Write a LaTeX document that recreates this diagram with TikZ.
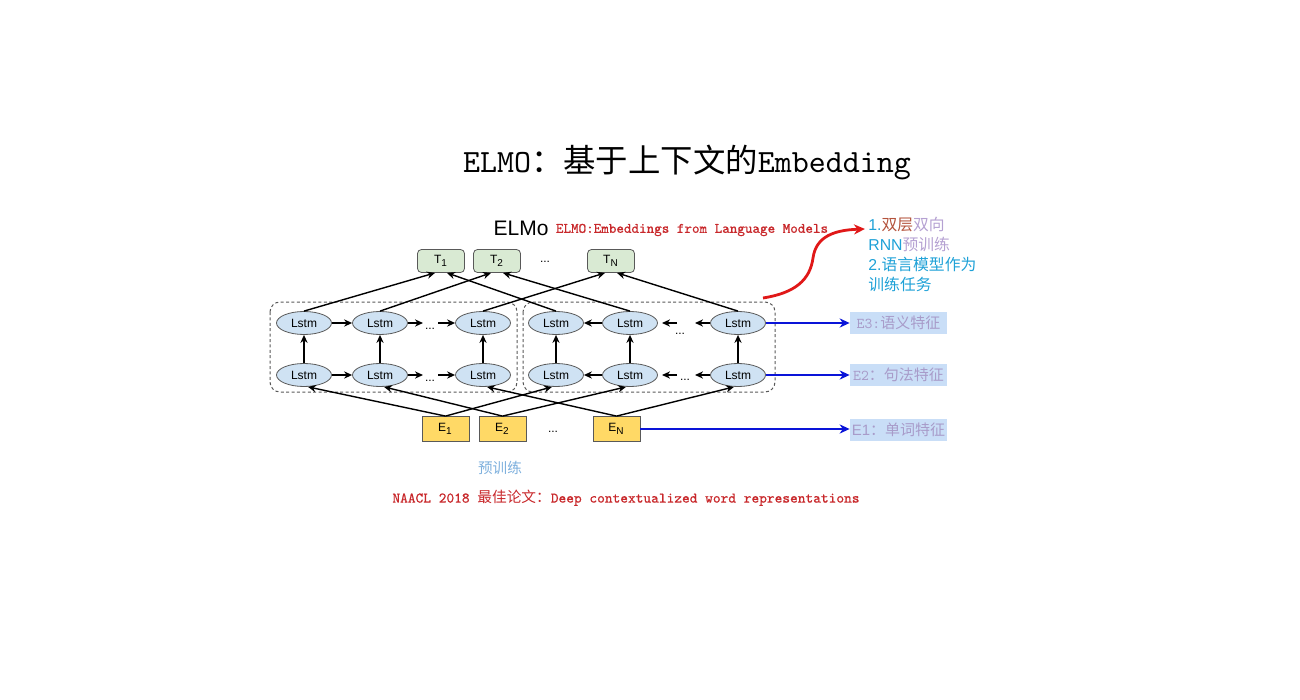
\documentclass[tikz,border=0pt]{standalone}
\usepackage{fontspec}
\setmainfont{Liberation Sans}
\newfontfamily\cjk{Noto Sans CJK SC}
\newfontfamily\simmono{lmmono10-regular.otf}
\newfontfamily\simmonob[FakeBold=0.8]{lmmono10-regular.otf}
\usetikzlibrary{shapes.geometric,arrows.meta}

\definecolor{tgreen}{HTML}{D9EAD3}
\definecolor{lstmblue}{HTML}{CFE2F3}
\definecolor{eyellow}{HTML}{FFD966}
\definecolor{featblue}{HTML}{C9DEF7}
\definecolor{feattext}{HTML}{A89BC9}
\definecolor{boxgrey}{HTML}{595959}
\definecolor{noteblue}{HTML}{1EA1D7}
\definecolor{notebrown}{HTML}{B4533C}
\definecolor{notelilac}{HTML}{B5A1D2}
\definecolor{pretrain}{HTML}{7EB0DD}
\definecolor{paperred}{HTML}{C8282B}
\definecolor{curvered}{HTML}{E01818}
\definecolor{featarrow}{HTML}{0A14D8}

\begin{document}
\begin{tikzpicture}[x=0.5pt,y=-0.5pt,
           lstm_style/.style={ellipse,draw=boxgrey,fill=lstmblue,minimum width=27.5pt,minimum height=11.5pt,inner sep=0pt,font=\fontsize{6}{7}\selectfont},
           tbox_style/.style={rectangle,rounded corners=2pt,draw=boxgrey,fill=tgreen,minimum width=23.5pt,minimum height=11.5pt,inner sep=0pt,font=\fontsize{6}{7}\selectfont},
           ebox_style/.style={rectangle,draw=boxgrey,fill=eyellow,minimum width=23.5pt,minimum height=12.5pt,inner sep=0pt,font=\fontsize{6}{7}\selectfont},
           feat_style/.style={rectangle,fill=featblue,text=feattext,minimum width=48.5pt,minimum height=11pt,inner sep=0pt,font=\fontsize{7.5}{9}\selectfont},
           dots_style/.style={inner sep=0pt,font=\fontsize{6}{7}\selectfont},
           group_style/.style={draw=boxgrey,dash pattern=on 1.5pt off 1.2pt,rounded corners=5pt,line width=0.5pt},
           edge_style/.style={draw=black,line width=0.7pt,-{Stealth[length=4pt,width=3.6pt]}},
           feat_edge_style/.style={draw=featarrow,line width=1.4pt,-{Stealth[length=5pt,width=4.6pt]}},
           curve_style/.style={draw=curvered,line width=1.4pt,-{Stealth[length=5.5pt,width=5pt]}}]
            \useasboundingbox (0,0) rectangle (1300,700);
            % title and model name
            \node[font=\fontsize{16.2}{18}\selectfont] (title) at (687,162) {{\simmono ELMO}{\cjk ：基于上下文的}{\simmono Embedding}};
            \node[font=\fontsize{10.5}{12}\selectfont] (elmo) at (521,228) {ELMo};
            \node[text=paperred,font=\fontsize{7.2}{9}\selectfont] (fullname) at (692,230) {\simmonob ELMO:Embeddings from Language Models};
            % output tokens
            \node[tbox_style] (t1) at (441,261) {T\textsubscript{1}};
            \node[tbox_style] (t2) at (497,261) {T\textsubscript{2}};
            \node[dots_style] (tdots) at (545,262) {...};
            \node[tbox_style] (tn) at (611,261) {T\textsubscript{N}};
            % two dashed groups
            \draw[group_style] (270,302) rectangle (517,392);
            \draw[group_style] (523,302) rectangle (775,392);
            % forward lstm
            \node[lstm_style] (fh1) at (304,323) {Lstm};
            \node[lstm_style] (fh2) at (380,323) {Lstm};
            \node[dots_style] (fhd) at (430,329) {...};
            \node[lstm_style] (fh3) at (483,323) {Lstm};
            \node[lstm_style] (fl1) at (304,375) {Lstm};
            \node[lstm_style] (fl2) at (380,375) {Lstm};
            \node[dots_style] (fld) at (430,381) {...};
            \node[lstm_style] (fl3) at (483,375) {Lstm};
            % backward lstm
            \node[lstm_style] (bh1) at (556,323) {Lstm};
            \node[lstm_style] (bh2) at (630,323) {Lstm};
            \node[dots_style] (bhd) at (680,334) {...};
            \node[lstm_style] (bh3) at (738,323) {Lstm};
            \node[lstm_style] (bl1) at (556,375) {Lstm};
            \node[lstm_style] (bl2) at (630,375) {Lstm};
            \node[dots_style] (bld) at (685,380) {...};
            \node[lstm_style] (bl3) at (738,375) {Lstm};
            \coordinate (fhd_in) at (423,323);
            \coordinate (fhd_out) at (438,323);
            \coordinate (fld_in) at (423,375);
            \coordinate (fld_out) at (438,375);
            \coordinate (bhd_in) at (662,323);
            \coordinate (bhd_out) at (677,323);
            \coordinate (bhd_end) at (695,323);
            \coordinate (bld_in) at (662,375);
            \coordinate (bld_out) at (677,375);
            \coordinate (bld_end) at (695,375);
            % input tokens
            \node[ebox_style] (e1) at (445.5,429) {E\textsubscript{1}};
            \node[ebox_style] (e2) at (502.5,429) {E\textsubscript{2}};
            \node[dots_style] (edots) at (553,432) {...};
            \node[ebox_style] (en) at (616.5,429) {E\textsubscript{N}};
            \node[text=pretrain,font=\fontsize{7.3}{9}\selectfont] (pre) at (500,468) {\cjk 预训练};
            \node[text=paperred,font=\fontsize{7.35}{9}\selectfont] (paper) at (626,498) {{\simmonob NAACL 2018 }{\cjk 最佳论文：}{\simmonob Deep contextualized word representations}};
            % features
            \node[feat_style] (f3) at (898.5,323) {{\simmono E3:}{\cjk 语义特征}};
            \node[feat_style] (f2) at (898.5,375) {{\simmono E2}{\cjk ：句法特征}};
            \node[feat_style] (f1) at (898.5,430) {E1{\cjk ：单词特征}};
            % note
            \node[anchor=north west,inner sep=0pt,align=left,text=noteblue,font=\fontsize{7.9}{10}\selectfont] (note) at (868,217)
                {1.{\cjk\textcolor{notebrown}{双层}\textcolor{notelilac}{双向}}\\
                 RNN{\cjk\textcolor{notelilac}{预训练}}\\
                 2.{\cjk 语言模型作为}\\
                 {\cjk 训练任务}};
            \coordinate (curve_start) at (763,298);
            \coordinate (curve_end) at (865,229);
            % edges to outputs
            \draw[edge_style] (fh1.north) -- ([xshift=-3pt]t1.south);
            \draw[edge_style] (bh1.north) -- ([xshift=3pt]t1.south);
            \draw[edge_style] (fh2.north) -- ([xshift=-3pt]t2.south);
            \draw[edge_style] (bh2.north) -- ([xshift=3pt]t2.south);
            \draw[edge_style] (fh3.north) -- ([xshift=-3pt]tn.south);
            \draw[edge_style] (bh3.north) -- ([xshift=3pt]tn.south);
            % edges from inputs
            \draw[edge_style] (e1.north) -- ([xshift=2pt]fl1.south);
            \draw[edge_style] (e1.north) -- ([xshift=-2pt]bl1.south);
            \draw[edge_style] (e2.north) -- ([xshift=2pt]fl2.south);
            \draw[edge_style] (e2.north) -- ([xshift=-2pt]bl2.south);
            \draw[edge_style] (en.north) -- ([xshift=2pt]fl3.south);
            \draw[edge_style] (en.north) -- ([xshift=-2pt]bl3.south);
            % layer edges
            \draw[edge_style] (fl1) -- (fh1);
            \draw[edge_style] (fl2) -- (fh2);
            \draw[edge_style] (fl3) -- (fh3);
            \draw[edge_style] (bl1) -- (bh1);
            \draw[edge_style] (bl2) -- (bh2);
            \draw[edge_style] (bl3) -- (bh3);
            % forward direction
            \draw[edge_style] (fh1) -- (fh2);
            \draw[edge_style] (fh2) -- (fhd_in);
            \draw[edge_style] (fhd_out) -- (fh3);
            \draw[edge_style] (fl1) -- (fl2);
            \draw[edge_style] (fl2) -- (fld_in);
            \draw[edge_style] (fld_out) -- (fl3);
            % backward direction
            \draw[edge_style] (bh2) -- (bh1);
            \draw[edge_style] (bhd_out) -- (bhd_in);
            \draw[edge_style] (bh3) -- (bhd_end);
            \draw[edge_style] (bl2) -- (bl1);
            \draw[edge_style] (bld_out) -- (bld_in);
            \draw[edge_style] (bl3) -- (bld_end);
            % feature arrows
            \draw[feat_edge_style] (bh3.east) -- (bh3.east -| f3.west);
            \draw[feat_edge_style] (bl3.east) -- (bl3.east -| f2.west);
            \draw[feat_edge_style] (en.east) -- (en.east -| f1.west);
            \draw[curve_style] (curve_start) .. controls (795,293) and (810,280) .. (813,258) .. controls (816,236) and (835,230) .. (curve_end);
        \end{tikzpicture}
\end{document}
